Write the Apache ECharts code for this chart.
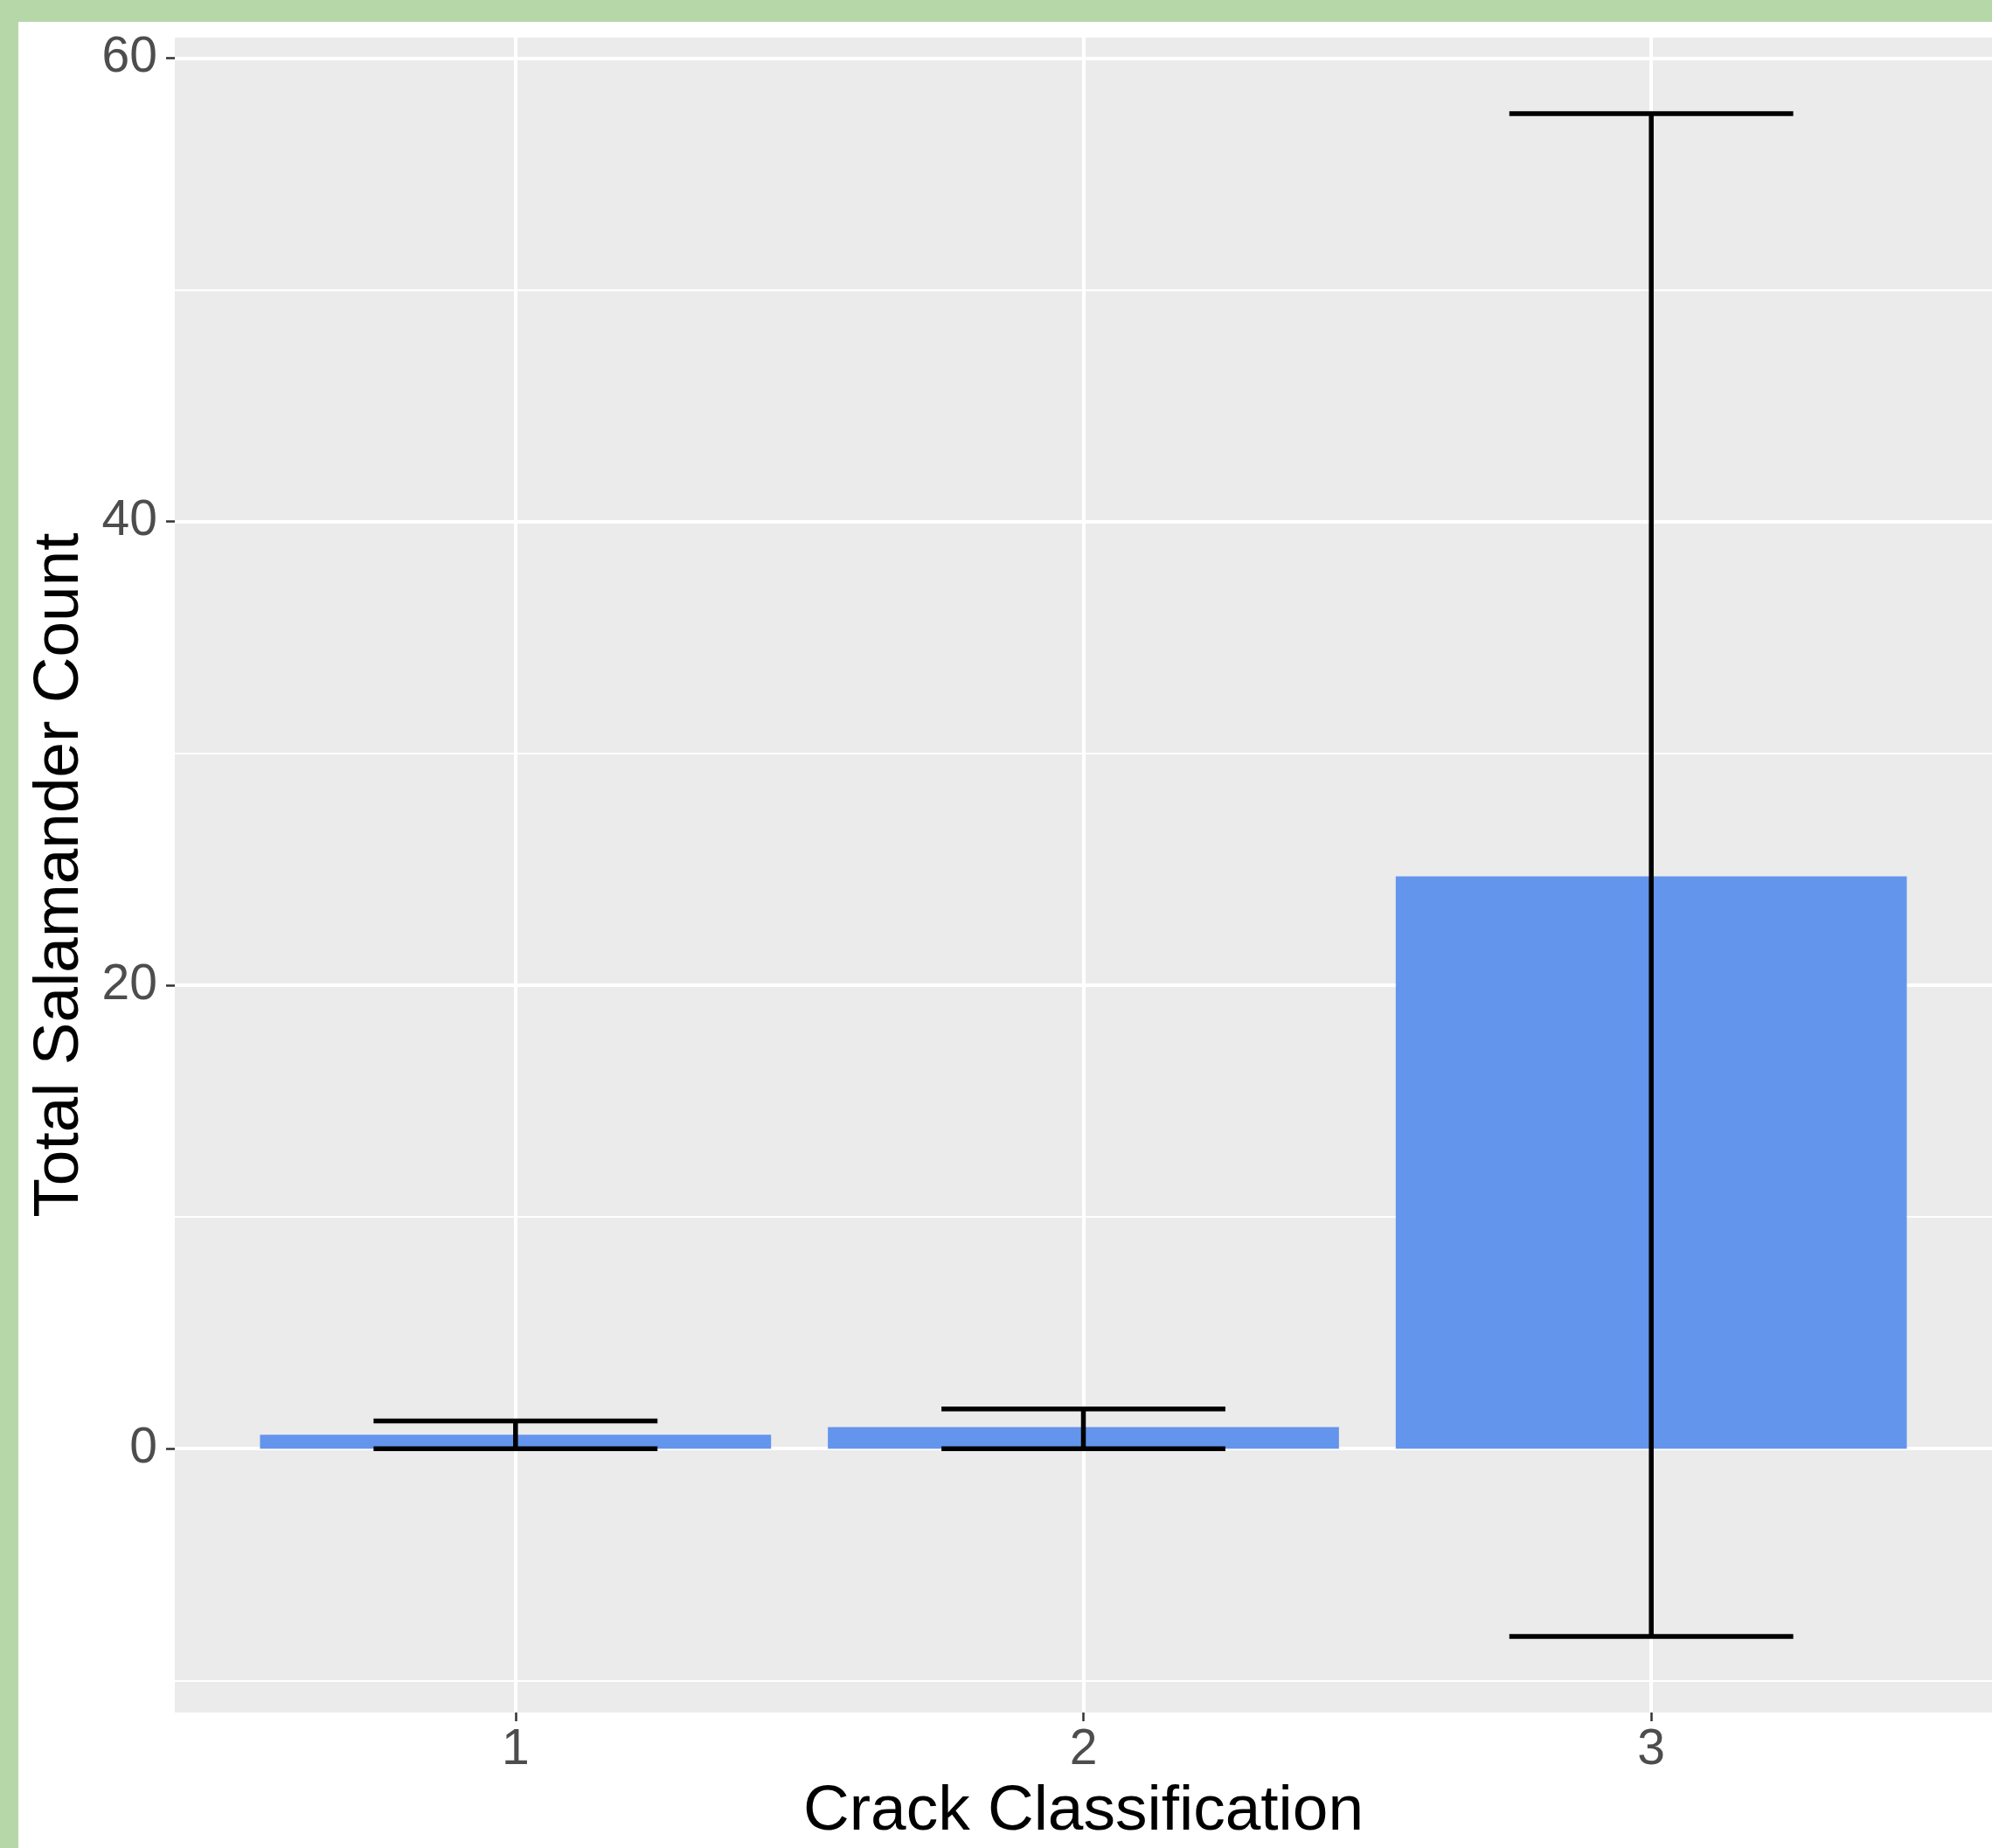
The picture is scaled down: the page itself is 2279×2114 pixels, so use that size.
<!DOCTYPE html>
<html>
<head>
<meta charset="utf-8">
<script src="https://cdn.jsdelivr.net/npm/echarts@6/dist/echarts.min.js"></script>
<style>
  html, body { margin: 0; padding: 0; background: #fff; }
  #chart { width: 2279px; height: 2114px; }
</style>
</head>
<body>
<div id="chart"></div>
<script>
// crack classes and salamander totals (bar height + error bar ends)
const categories = [1, 2, 3];
const counts = [0.6, 0.93, 24.7];
const errLow = [0, 0, -8.1];
const errHigh = [1.2, 1.72, 57.6];
const yTicks = [0, 20, 40, 60];
const yMinorTicks = [-10, 10, 30, 50];

const font = '"Liberation Sans", Arial, sans-serif';
const yMin = -11.385, yMax = 60.885;

const chart = echarts.init(document.getElementById('chart'));

const barData = categories.map((c, i) => [c, counts[i]]);
const errData = categories.map((c, i) => [c, errLow[i], errHigh[i]]);

chart.setOption({
    backgroundColor: '#ffffff',
    animation: false,
    graphic: [
        // green slide frame (top and left edges)
        { type: 'rect', left: 0, top: 0, shape: { width: 2279, height: 25 }, style: { fill: '#b6d7a8' }, z: -10 },
        { type: 'rect', left: 0, top: 0, shape: { width: 21, height: 2114 }, style: { fill: '#b6d7a8' }, z: -10 }
    ],
    grid: {
        left: 200,
        top: 43,
        width: 2080,
        height: 1919,
        show: true,
        backgroundColor: '#ebebeb',
        borderWidth: 0
    },
    xAxis: {
        type: 'value',
        min: 0.4,
        max: 3.6,
        name: 'Crack Classification',
        nameLocation: 'middle',
        nameGap: 73,
        nameTextStyle: { fontFamily: font, fontSize: 73, color: '#000' },
        axisLine: { show: false, onZero: false },
        axisTick: { show: true, length: 10, customValues: categories, lineStyle: { color: '#333', width: 2.5 } },
        axisLabel: { customValues: categories, margin: 15, fontFamily: font, fontSize: 57, color: '#4d4d4d' },
        splitLine: { show: true, lineStyle: { color: '#fff', width: 4 } }
    },
    yAxis: [
        {
            type: 'value',
            min: yMin,
            max: yMax,
            name: 'Total Salamander Count',
            nameLocation: 'middle',
            nameGap: 90,
            nameTextStyle: { fontFamily: font, fontSize: 73, color: '#000' },
            axisLine: { show: false, onZero: false },
            axisTick: { show: true, length: 10, customValues: yTicks, lineStyle: { color: '#333', width: 2.5 } },
            axisLabel: { customValues: yTicks, margin: 20, fontFamily: font, fontSize: 57, color: '#4d4d4d' },
            splitLine: { show: true, lineStyle: { color: '#fff', width: 4 } },
            z: 2
        },
        {
            // minor grid lines only
            type: 'value',
            min: yMin,
            max: yMax,
            axisLine: { show: false, onZero: false },
            axisTick: { show: false, customValues: yMinorTicks },
            axisLabel: { show: false },
            splitLine: { show: true, lineStyle: { color: '#fff', width: 2 } },
            z: 1
        }
    ],
    series: [
        {
            type: 'custom',
            name: 'count',
            data: barData,
            renderItem: function (params, api) {
                const x = api.value(0);
                const y = api.value(1);
                const p0 = api.coord([x - 0.45, 0]);
                const p1 = api.coord([x + 0.45, y]);
                return {
                    type: 'rect',
                    shape: { x: p0[0], y: p1[1], width: p1[0] - p0[0], height: p0[1] - p1[1] },
                    style: { fill: '#6495ed' }
                };
            },
            z: 3
        },
        {
            type: 'custom',
            name: 'error',
            data: errData,
            renderItem: function (params, api) {
                const x = api.value(0);
                const lo = api.coord([x, api.value(1)]);
                const hi = api.coord([x, api.value(2)]);
                const l = api.coord([x - 0.25, 0])[0];
                const r = api.coord([x + 0.25, 0])[0];
                const st = { stroke: '#000', lineWidth: 5.5 };
                return {
                    type: 'group',
                    children: [
                        { type: 'line', shape: { x1: lo[0], y1: lo[1], x2: hi[0], y2: hi[1] }, style: st },
                        { type: 'line', shape: { x1: l, y1: hi[1], x2: r, y2: hi[1] }, style: st },
                        { type: 'line', shape: { x1: l, y1: lo[1], x2: r, y2: lo[1] }, style: st }
                    ]
                };
            },
            z: 4
        }
    ]
});
</script>
</body>
</html>
